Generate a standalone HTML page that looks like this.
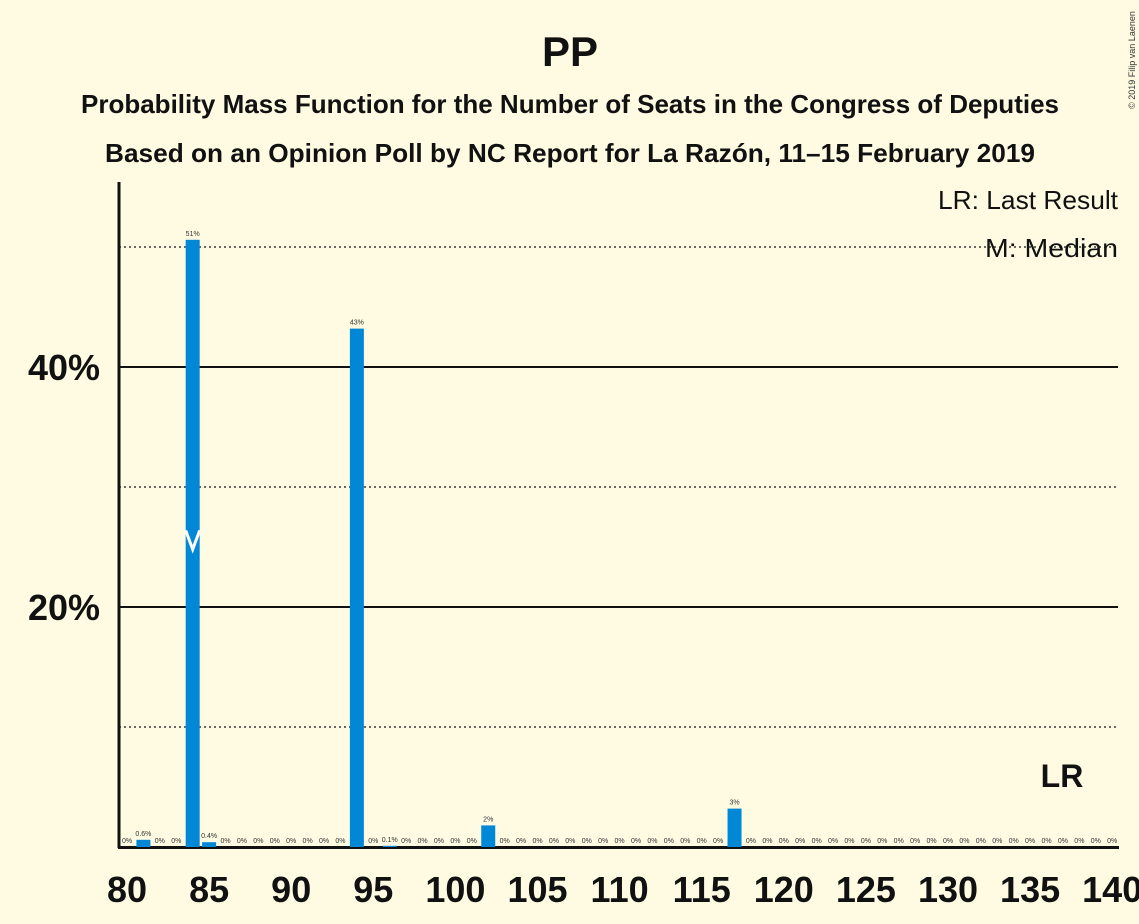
<!DOCTYPE html>
<html><head><meta charset="utf-8"><style>
body{margin:0;background:#fefbe2;}
svg{display:block;font-family:"Liberation Sans",sans-serif;}
</style></head><body>
<svg id="chart" width="1139" height="924" viewBox="0 0 1139 924">
<rect width="1139" height="924" fill="#fefbe2"/>
<text x="570" y="66" text-anchor="middle" font-size="42" font-weight="bold" fill="#111">PP</text>
<text x="570" y="113" text-anchor="middle" font-size="26" font-weight="bold" fill="#111" textLength="978" lengthAdjust="spacingAndGlyphs">Probability Mass Function for the Number of Seats in the Congress of Deputies</text>
<text x="570" y="162" text-anchor="middle" font-size="26" font-weight="bold" fill="#111" textLength="930" lengthAdjust="spacingAndGlyphs">Based on an Opinion Poll by NC Report for La Razón, 11–15 February 2019</text>
<text x="1135" y="60" font-size="9" fill="#333" transform="rotate(-90 1135 60)" text-anchor="middle">© 2019 Filip van Laenen</text>
<g id="grid"></g>
<g id="bars"></g>
<g id="labels"></g>
<text x="1118" y="209" text-anchor="end" font-size="26" fill="#111" textLength="180" lengthAdjust="spacingAndGlyphs">LR: Last Result</text>
<text x="1118" y="257" text-anchor="end" font-size="26" fill="#111" textLength="133" lengthAdjust="spacingAndGlyphs">M: Median</text>
<text x="1062" y="787" text-anchor="middle" font-size="32" font-weight="bold" fill="#111">LR</text>
</svg>
<script>
const seats = [];
for (let s = 80; s <= 140; s++) seats.push(s);
const probs = [0,0.6,0,0,50.6,0.4,0,0,0,0,0,0,0,0,43.2,0,0.1,0,0,0,0,0,1.8,0,0,0,0,0,0,0,0,0,0,0,0,0,0,3.2,0,0,0,0,0,0,0,0,0,0,0,0,0,0,0,0,0,0,0,0,0,0,0];
const valueLabels = probs.map(p => p >= 1 ? Math.round(p) + '%' : (p > 0 ? p + '%' : '0%'));
const yTicks = [20, 40];
const yMinorTicks = [10, 30, 50];
const xTicks = [80,85,90,95,100,105,110,115,120,125,130,135,140];
const median = 84;
const NS = 'http://www.w3.org/2000/svg';
const x = s => 127 + (s - 80) * 16.42;
const y = v => 847 - v * 12;
function mk(tag, attrs, parent, text) {
  const el = document.createElementNS(NS, tag);
  for (const k in attrs) el.setAttribute(k, attrs[k]);
  if (text !== undefined) el.textContent = text;
  parent.appendChild(el);
  return el;
}
const grid = document.getElementById('grid');
const bars = document.getElementById('bars');
const labels = document.getElementById('labels');
yMinorTicks.forEach(t => {
  const l = mk('line', {x1:119, x2:1118, y1:y(t), y2:y(t), stroke:'#111', 'stroke-width':1.3, 'stroke-dasharray':'2,3'}, grid);
  
  
});
yTicks.forEach(t => {
  const l = mk('line', {x1:119, x2:1118, y1:y(t), y2:y(t), stroke:'#111', 'stroke-width':2}, grid);
  
  
  const tx = mk('text', {x:100, y:y(t)+13, 'text-anchor':'end', 'font-size':36, 'font-weight':'bold', fill:'#111'}, grid, t + '%');
  
  
});
const ax = mk('line', {x1:119, x2:119, y1:182, y2:848, stroke:'#111', 'stroke-width':3}, grid);


const bx = mk('line', {x1:118, x2:1119, y1:847.5, y2:847.5, stroke:'#111', 'stroke-width':3}, grid);


xTicks.forEach(t => {
  const tx = mk('text', {x:x(t), y:902, 'text-anchor':'middle', 'font-size':36, 'font-weight':'bold', fill:'#111'}, labels, t);
  
  
});
seats.forEach((s, i) => {
  const p = probs[i];
  if (p > 0) {
    const r = mk('rect', {x:x(s)-7, y:y(p), width:14, height:847-y(p), fill:'#0088d7'}, bars);
    
    
  }
  const tx = mk('text', {x:x(s), y:y(p)-4, 'text-anchor':'middle', 'font-size':7, fill:'#333'}, labels, valueLabels[i]);
  
  
});
const mi = seats.indexOf(median);
const my = y(probs[mi] / 2);
const m = mk('polyline', {points:`${x(median)-7},${my-13} ${x(median)},${my+6} ${x(median)+7},${my-13}`, fill:'none', stroke:'#fff', 'stroke-width':3}, bars);


</script>
</body></html>
